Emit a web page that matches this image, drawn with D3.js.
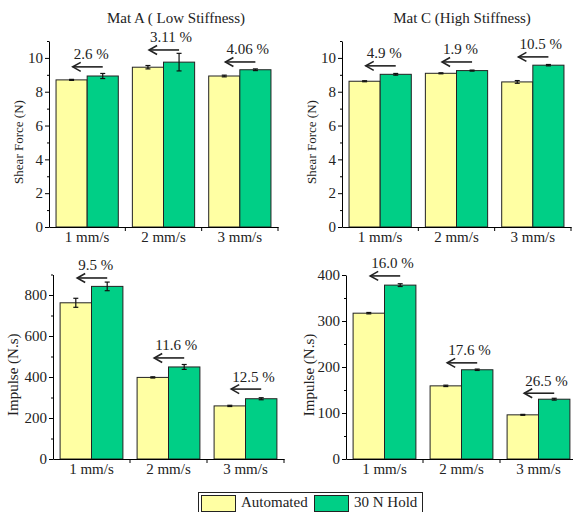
<!DOCTYPE html>
<html>
<head>
<meta charset="utf-8">
<script src="https://cdn.jsdelivr.net/npm/d3@7"></script>
<style>
  body { margin: 0; background: #fff; }
  svg { display: block; }
  svg text { font-family: 'Liberation Serif', 'Times New Roman', serif !important; fill: #222; }
</style>
</head>
<body>
<svg id="chart" width="573" height="512" font-family="'Liberation Serif', serif"></svg>
<script>
const speeds = ["1 mm/s", "2 mm/s", "3 mm/s"];
const seriesNames = ["Automated", "30 N Hold"];

// Mat A shear force
const shearA_auto = [8.70, 9.45, 8.93];
const shearA_autoErr = [0.03, 0.10, 0.05];
const shearA_hold = [8.93, 9.75, 9.30];
const shearA_holdErr = [0.15, 0.52, 0.05];
const shearA_pct = ["2.6 %", "3.11 %", "4.06 %"];
const shearA_arrowAt = [9.47, 10.47, 9.76];

// Mat C shear force
const shearC_auto = [8.62, 9.09, 8.58];
const shearC_autoErr = [0.03, 0.03, 0.08];
const shearC_hold = [9.03, 9.25, 9.57];
const shearC_holdErr = [0.05, 0.03, 0.04];
const shearC_pct = ["4.9 %", "1.9 %", "10.5 %"];
const shearC_arrowAt = [9.53, 9.76, 10.06];

// Mat A impulse
const impA_auto = [762, 398, 259];
const impA_autoErr = [22, 3, 3];
const impA_hold = [842, 449, 294];
const impA_holdErr = [21, 12, 5];
const impA_pct = ["9.5 %", "11.6 %", "12.5 %"];
const impA_arrowAt = [883, 493, 341];

// Mat C impulse
const impC_auto = [317, 159, 96];
const impC_autoErr = [1.5, 1.5, 1];
const impC_hold = [378, 194, 130];
const impC_holdErr = [3, 1.5, 2];
const impC_pct = ["16.0 %", "17.6 %", "26.5 %"];
const impC_arrowAt = [398, 209, 143];

const shearTicks = [0, 2, 4, 6, 8, 10];
const shearMinor = [1, 3, 5, 7, 9, 11];
const impATicks = [0, 200, 400, 600, 800];
const impAMinor = [100, 300, 500, 700, 900];
const impCTicks = [0, 100, 200, 300, 400];
const impCMinor = [50, 150, 250, 350];

const colors = { auto: "#FFFFA3", hold: "#00CF86" };
const FONT = "'Liberation Serif', 'Times New Roman', serif";

const svg = d3.select("#chart");

const panels = [
  { title: "Mat A ( Low Stiffness)", ylabel: "Shear Force (N)", labelSize: 13,
    auto: shearA_auto, autoErr: shearA_autoErr, hold: shearA_hold, holdErr: shearA_holdErr,
    pct: shearA_pct, arrowAt: shearA_arrowAt, ymax: 11, ticks: shearTicks, minor: shearMinor,
    left: 49, right: 278, top: 41, bottom: 227, labelX: 18.5, titleX: 176 },
  { title: "Mat C (High Stiffness)", ylabel: "Shear Force (N)", labelSize: 13,
    auto: shearC_auto, autoErr: shearC_autoErr, hold: shearC_hold, holdErr: shearC_holdErr,
    pct: shearC_pct, arrowAt: shearC_arrowAt, ymax: 11, ticks: shearTicks, minor: shearMinor,
    left: 342, right: 571, top: 41, bottom: 227, labelX: 311, titleX: 462 },
  { ylabel: "Impulse (N.s)", labelSize: 15,
    auto: impA_auto, autoErr: impA_autoErr, hold: impA_hold, holdErr: impA_holdErr,
    pct: impA_pct, arrowAt: impA_arrowAt, ymax: 900, ticks: impATicks, minor: impAMinor,
    left: 53, right: 284, top: 274.5, bottom: 459, labelX: 13, titleX: 0 },
  { ylabel: "Impulse (N.s)", labelSize: 15,
    auto: impC_auto, autoErr: impC_autoErr, hold: impC_hold, holdErr: impC_holdErr,
    pct: impC_pct, arrowAt: impC_arrowAt, ymax: 400, ticks: impCTicks, minor: impCMinor,
    left: 346, right: 577, top: 275, bottom: 459, labelX: 309, titleX: 0 }
];

function drawPanel(p) {
  const g = svg.append("g");

  const x = d3.scaleBand().domain(speeds).range([p.left, p.right]).padding(0);
  const xs = d3.scaleBand().domain(["auto", "hold"]).range([0, x.bandwidth()])
    .paddingInner(0).paddingOuter(0.226);
  const y = d3.scaleLinear().domain([0, p.ymax]).range([p.bottom, p.top]);

  const rows = speeds.map((s, i) => ({
    speed: s,
    bars: [
      { key: "auto", v: p.auto[i], e: p.autoErr[i] },
      { key: "hold", v: p.hold[i], e: p.holdErr[i] }
    ],
    pct: p.pct[i], arrowAt: p.arrowAt[i]
  }));

  // bars
  const grp = g.selectAll(".grp").data(rows).join("g")
    .attr("transform", d => `translate(${x(d.speed)},0)`);

  grp.selectAll("rect").data(d => d.bars).join("rect")
    .attr("x", d => xs(d.key))
    .attr("y", d => y(d.v))
    .attr("width", xs.bandwidth())
    .attr("height", d => y(0) - y(d.v))
    .attr("fill", d => colors[d.key])
    .attr("stroke", "#222")
    .attr("stroke-width", 1);

  // error bars
  const eb = grp.selectAll(".err").data(d => d.bars).join("g").attr("class", "err");
  const cx = d => xs(d.key) + xs.bandwidth() / 2;
  eb.append("line")
    .attr("x1", cx).attr("x2", cx)
    .attr("y1", d => y(d.v - d.e)).attr("y2", d => y(d.v + d.e))
    .attr("stroke", "#111").attr("stroke-width", 1.2);
  eb.append("line")
    .attr("x1", d => cx(d) - 2.5).attr("x2", d => cx(d) + 2.5)
    .attr("y1", d => y(d.v + d.e)).attr("y2", d => y(d.v + d.e))
    .attr("stroke", "#111").attr("stroke-width", 1.2);
  eb.append("line")
    .attr("x1", d => cx(d) - 2.5).attr("x2", d => cx(d) + 2.5)
    .attr("y1", d => y(d.v - d.e)).attr("y2", d => y(d.v - d.e))
    .attr("stroke", "#111").attr("stroke-width", 1.2);

  // axes
  const yAxis = d3.axisLeft(y).tickValues(p.ticks).tickSize(4).tickSizeOuter(0).tickPadding(2);
  const ya = g.append("g").attr("transform", `translate(${p.left},0)`).call(yAxis);
  g.append("g").attr("transform", `translate(${p.left},0)`)
    .call(d3.axisLeft(y).tickValues(p.minor).tickSize(2).tickSizeOuter(0).tickFormat(""))
    .select(".domain").remove();

  const xAxis = d3.axisBottom(x).tickSize(0).tickSizeOuter(0).tickPadding(4);
  const xa = g.append("g").attr("transform", `translate(0,${p.bottom})`).call(xAxis);

  g.selectAll(".tick text").attr("font-size", 15).attr("font-family", FONT).attr("fill", "#222");
  g.selectAll("g").attr("font-family", FONT);

  const bounds = speeds.slice(1).map(s => x(s)).concat([p.right]);
  g.selectAll(".xb").data(bounds).join("line")
    .attr("x1", d => d).attr("x2", d => d)
    .attr("y1", p.bottom).attr("y2", p.bottom + 4)
    .attr("stroke", "#000");

  g.selectAll(".domain").attr("stroke", "#000");
  g.selectAll(".tick line").attr("stroke", "#000");

  // y label
  g.append("text")
    .attr("transform", `translate(${p.labelX},${(p.top + p.bottom) / 2 + 8}) rotate(-90)`)
    .attr("text-anchor", "middle")
    .attr("dy", "0.35em")
    .attr("font-family", FONT)
    .attr("font-size", p.labelSize)
    .text(p.ylabel);

  if (p.title) {
    g.append("text").attr("x", p.titleX).attr("y", 23)
      .attr("text-anchor", "middle").attr("font-family", FONT).attr("font-size", 15).text(p.title);
  }

  // percentage arrows
  const ann = grp.append("g");
  const hx = xs("hold") + xs.bandwidth() / 2;
  ann.append("line")
    .attr("x1", hx).attr("x2", hx - 30)
    .attr("y1", d => y(d.arrowAt)).attr("y2", d => y(d.arrowAt))
    .attr("stroke", "#222").attr("stroke-width", 1.6);
  ann.append("path")
    .attr("d", d => {
      const yy = y(d.arrowAt), tx = hx - 30;
      return `M${tx + 8},${yy - 4.5}L${tx},${yy}L${tx + 8},${yy + 4.5}`;
    })
    .attr("fill", "none").attr("stroke", "#222").attr("stroke-width", 1.6);
  ann.append("text")
    .attr("x", hx - 29)
    .attr("y", d => y(d.arrowAt) - 7.5)
    .attr("font-family", FONT)
    .attr("font-size", 15)
    .text(d => d.pct);
}

panels.forEach(drawPanel);

// legend
const legend = svg.append("g");
legend.append("rect").attr("x", 198.5).attr("y", 492.5).attr("width", 224).attr("height", 24)
  .attr("fill", "#fff").attr("stroke", "#222");
const legItems = [
  { name: seriesNames[0], key: "auto", x: 201 },
  { name: seriesNames[1], key: "hold", x: 314 }
];
const li = legend.selectAll(".li").data(legItems).join("g")
  .attr("transform", d => `translate(${d.x},0)`);
li.append("rect").attr("x", 0.5).attr("y", 495.5).attr("width", 34).attr("height", 16)
  .attr("fill", d => colors[d.key]).attr("stroke", "#222");
li.append("text").attr("x", 40).attr("y", 507).attr("font-family", FONT).attr("font-size", 15)
  .text(d => d.name);
</script>
</body>
</html>
